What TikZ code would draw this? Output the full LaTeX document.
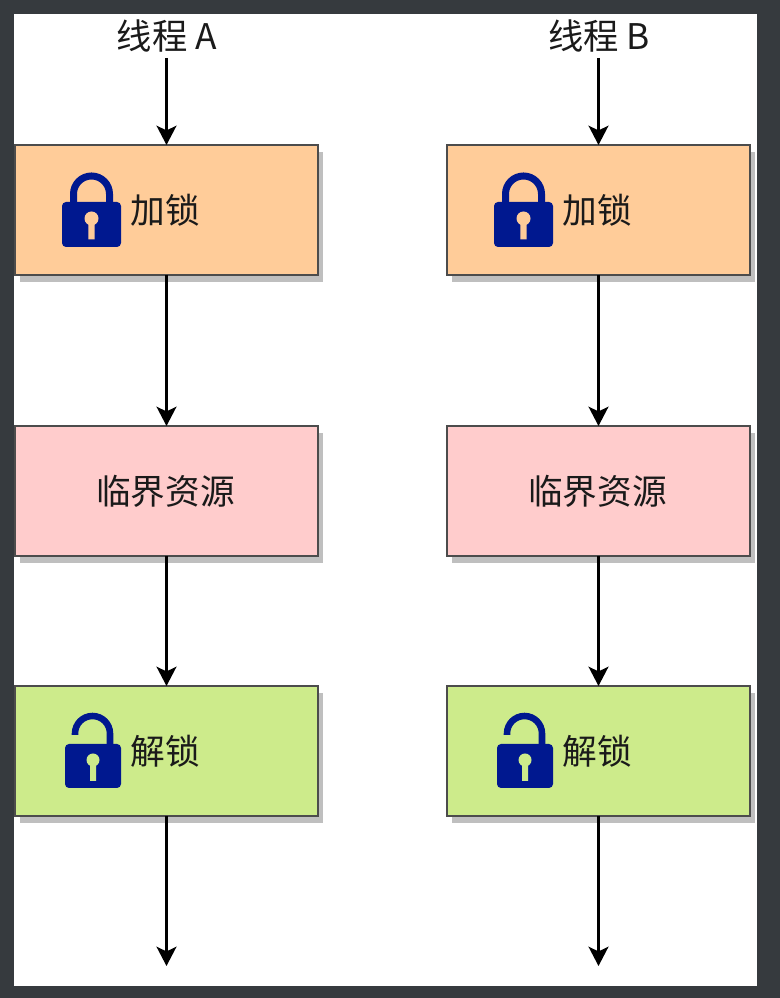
\documentclass[tikz,border=0pt]{standalone}
\usepackage{fontspec}
\setmainfont{Noto Sans CJK SC}
\usepackage{tikz}
\usetikzlibrary{arrows.meta, shadows}
\definecolor{framedark}{HTML}{363A3E}
\definecolor{lockblue}{HTML}{00188F}
\definecolor{lockorange}{HTML}{FFCC99}
\definecolor{resourcepink}{HTML}{FFCCCC}
\definecolor{unlockgreen}{HTML}{CDEB8B}
\definecolor{inkdark}{HTML}{1A1A1A}
\tikzset{
	stagebox/.style={draw=black!70, line width=1.5pt, minimum width=227.25pt, minimum height=97.5pt, inner sep=0pt, outer sep=0pt,
		general shadow={fill=black!25, shadow xshift=3.75pt, shadow yshift=-5pt}},
	stagetext/.style={font=\fontsize{26}{30}\selectfont, text=inkdark, inner sep=0pt},
	titletext/.style={font=\fontsize{26.5}{30}\selectfont, text=inkdark, minimum height=33pt, inner sep=0pt, outer sep=0pt},
	flow/.style={-{Stealth[length=14.5pt, width=15pt, inset=3.6pt]}, line width=1.8pt, black},
	closedlock/.pic={
		\draw[lockblue, line width=5.25pt] (-18,20) -- (-18,30.5) arc (180:0:18) -- (18,20);
		\fill[lockblue, rounded corners=3pt] (-29.5,-22.5) rectangle (29.5,22.5);
		\fill[lockorange] (0,6) circle (7) (-3.2,0) rectangle (3.2,-15);
	},
	openlock/.pic={
		\draw[lockblue, line width=4.9pt] (-18,31) -- (-18,32.5) arc (180:0:17.5) -- (17,20);
		\fill[lockblue, rounded corners=3pt] (-28,-22) rectangle (28,22);
		\fill[unlockgreen] (0,6) circle (6.5) (-3,0) rectangle (3,-15);
	}
}
\begin{document}
\begin{tikzpicture}[x=0.75pt, y=0.75pt]
	\useasboundingbox[fill=framedark] (0,0) rectangle (780,998);
	\fill[white] (14,12) rectangle (757,984);
	% one column per thread
	\foreach \cx/\nm in {167/A, 599/B}{
		\node[titletext] (title\nm) at (\cx,962) {线程 \nm};
		\node[stagebox, fill=lockorange] (lock\nm) at (\cx-0.5,788) {};
		\node[stagebox, fill=resourcepink] (resource\nm) at (\cx-0.5,507) {};
		\node[stagebox, fill=unlockgreen] (unlock\nm) at (\cx-0.5,247) {};
		\coordinate (end\nm) at (\cx,32);
		% icons
		\pic at (\cx-75.5,773.5) {closedlock};
		\pic at (\cx-74,232) {openlock};
		% labels
		\node[stagetext] (locktext\nm) at (\cx-2,788) {加锁};
		\node[stagetext] (resourcetext\nm) at (\cx-1.5,507) {临界资源};
		\node[stagetext] (unlocktext\nm) at (\cx-2,247) {解锁};
		% arrows
		\draw[flow] (title\nm.south -| lock\nm.north) -- (lock\nm.north);
		\draw[flow] (lock\nm) -- (resource\nm);
		\draw[flow] (resource\nm) -- (unlock\nm);
		\draw[flow] (unlock\nm) -- (end\nm -| unlock\nm);
	}
\end{tikzpicture}
\end{document}
